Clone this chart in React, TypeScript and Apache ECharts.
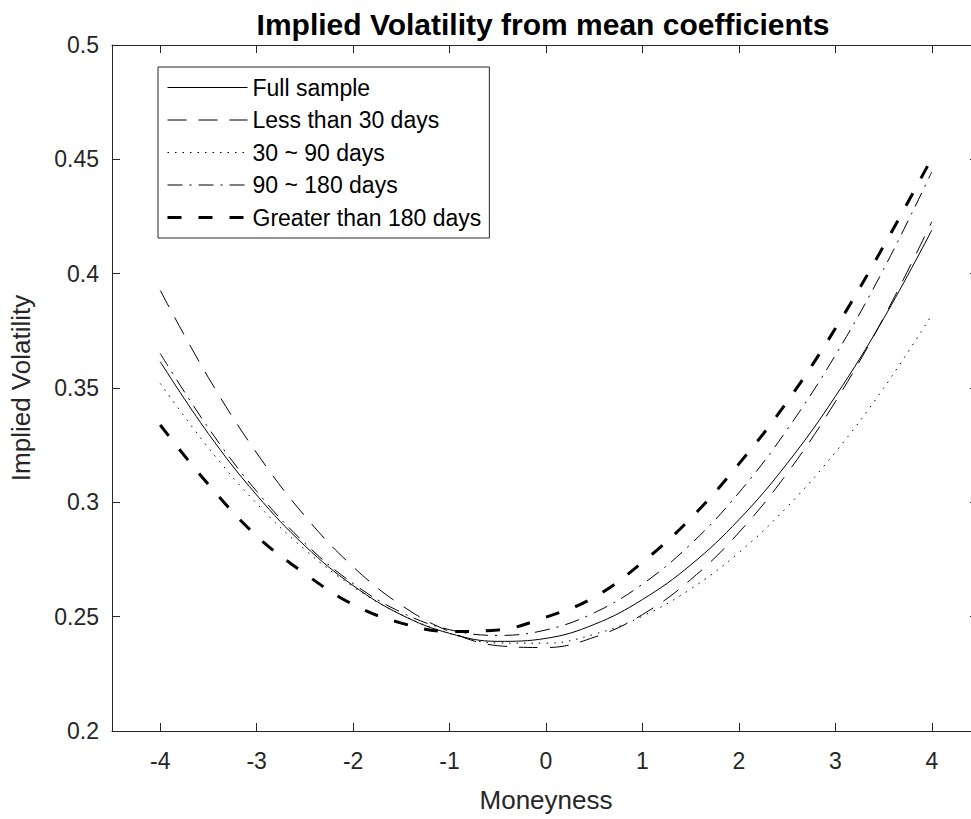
import React, { useEffect, useRef } from "react";
import * as echarts from "echarts";

const moneyness = [-4, -3.5, -3, -2.5, -2, -1.5, -1, -0.5, 0, 0.5, 1, 1.5, 2, 2.5, 3, 3.5, 4];
const seriesNames = ["Full sample", "Less than 30 days", "30 ~ 90 days", "90 ~ 180 days", "Greater than 180 days"];
const fullSample = [0.3615, 0.3300, 0.3032, 0.2810, 0.2636, 0.2508, 0.2427, 0.2392, 0.2405, 0.2466, 0.2575, 0.2726, 0.2924, 0.3170, 0.3463, 0.3803, 0.4190];
const lessThan30 = [0.3927, 0.3545, 0.3216, 0.2940, 0.2718, 0.2550, 0.2435, 0.2373, 0.2365, 0.2410, 0.2509, 0.2662, 0.2868, 0.3127, 0.3440, 0.3807, 0.4227];
const days30to90 = [0.3520, 0.3238, 0.2995, 0.2793, 0.2631, 0.2509, 0.2427, 0.2385, 0.2384, 0.2423, 0.2502, 0.2621, 0.2780, 0.2980, 0.3219, 0.3499, 0.3819];
const days90to180 = [0.3651, 0.3325, 0.3048, 0.2821, 0.2645, 0.2519, 0.2443, 0.2418, 0.2442, 0.2517, 0.2642, 0.2817, 0.3042, 0.3318, 0.3643, 0.4019, 0.4445];
const greater180 = [0.3338, 0.3078, 0.2853, 0.2688, 0.2553, 0.2472, 0.2435, 0.2442, 0.2498, 0.2585, 0.2738, 0.2930, 0.3168, 0.3440, 0.3760, 0.4120, 0.4505];
const xTicks = [-4, -3, -2, -1, 0, 1, 2, 3, 4];

const FONT = "Liberation Sans";
const AX = "#262626";

export default function App() {
  const ref = useRef<HTMLDivElement>(null);
  useEffect(() => {
    if (!ref.current) return;
    const chart = echarts.init(ref.current, null, { renderer: "svg" });
    const values = [fullSample, lessThan30, days30to90, days90to180, greater180];
    const styles = [
      { width: 1, type: "solid" as any },
      { width: 1, type: [19, 12] },
      { width: 1, type: [1.5, 6] },
      { width: 1, type: [15, 7, 2, 7] },
      { width: 3, type: [14, 17] },
    ];
    const series = values.map((arr, i) => ({
      name: seriesNames[i],
      type: "line",
      xAxisIndex: 0,
      yAxisIndex: 0,
      symbol: "none",
      smooth: 0.4,
      data: moneyness.map((m, j) => [m, arr[j]]),
      lineStyle: { color: "#000", width: styles[i].width, type: styles[i].type, cap: "butt" },
      itemStyle: { color: "#000" },
      z: 2,
    }));
    const legendData = seriesNames.map((n, i) => ({
      name: n,
      lineStyle: { color: "#000", width: styles[i].width, type: styles[i].type, cap: "butt", opacity: 1 },
      itemStyle: { color: "rgba(0,0,0,0)", opacity: 0, borderWidth: 0 },
    }));
    const baseX = {
      type: "value",
      min: -4.5,
      max: 4.5,
      axisLine: { show: true, onZero: false, lineStyle: { color: AX, width: 1 } },
      splitLine: { show: false },
    };
    const baseY = {
      type: "value",
      min: 0.2,
      max: 0.5,
      interval: 0.05,
      axisLine: { show: true, onZero: false, lineStyle: { color: AX, width: 1 } },
      splitLine: { show: false },
    };
    chart.setOption({
      animation: false,
      backgroundColor: "#fff",
      title: {
        text: "Implied Volatility from mean coefficients",
        left: 538,
        textAlign: "center",
        top: 4,
        textStyle: { fontFamily: FONT, fontSize: 30, fontWeight: "bold", color: "#000" },
      },
      grid: { left: 112, top: 45, right: 0, bottom: 88, containLabel: false },
      legend: {
        left: 158,
        top: 67,
        orient: "vertical",
        itemWidth: 80,
        itemHeight: 20,
        itemGap: 9.5,
        itemTextGap: 7,
        padding: [9, 8, 9, 8],
        borderColor: AX,
        borderWidth: 1,
        borderRadius: 0,
        backgroundColor: "#fff",
        data: legendData,
        itemStyle: { color: "rgba(0,0,0,0)", opacity: 0, borderWidth: 0 },
        textStyle: { fontFamily: FONT, fontSize: 23, color: "#000" },
      },
      xAxis: [
        {
          ...baseX,
          position: "bottom",
          name: "Moneyness",
          nameLocation: "middle",
          nameGap: 56,
          nameTextStyle: { fontFamily: FONT, fontSize: 26, color: AX },
          axisTick: { show: true, inside: true, length: 8, lineStyle: { color: AX }, customValues: xTicks },
          axisLabel: { show: true, margin: 18, fontFamily: FONT, fontSize: 23, color: AX, customValues: xTicks },
        },
        {
          ...baseX,
          position: "top",
          axisTick: { show: true, inside: true, length: 8, lineStyle: { color: AX }, customValues: xTicks },
          axisLabel: { show: false },
        },
      ],
      yAxis: [
        {
          ...baseY,
          position: "left",
          name: "Implied Volatility",
          nameLocation: "middle",
          nameGap: 78,
          nameTextStyle: { fontFamily: FONT, fontSize: 26, color: AX },
          axisTick: { show: true, inside: true, length: 8, lineStyle: { color: AX } },
          axisLabel: { show: true, margin: 13, fontFamily: FONT, fontSize: 23, color: AX },
        },
        {
          ...baseY,
          position: "right",
          axisTick: { show: true, inside: true, length: 10, lineStyle: { color: AX } },
          axisLabel: { show: false },
        },
      ],
      series,
    } as any);
    return () => chart.dispose();
  }, []);
  return (
    <div style={{ position: "fixed", left: 0, top: 0, width: 971, height: 819, overflow: "hidden", background: "#fff" }}>
      <div ref={ref} style={{ width: 980, height: 819 }} />
    </div>
  );
}
